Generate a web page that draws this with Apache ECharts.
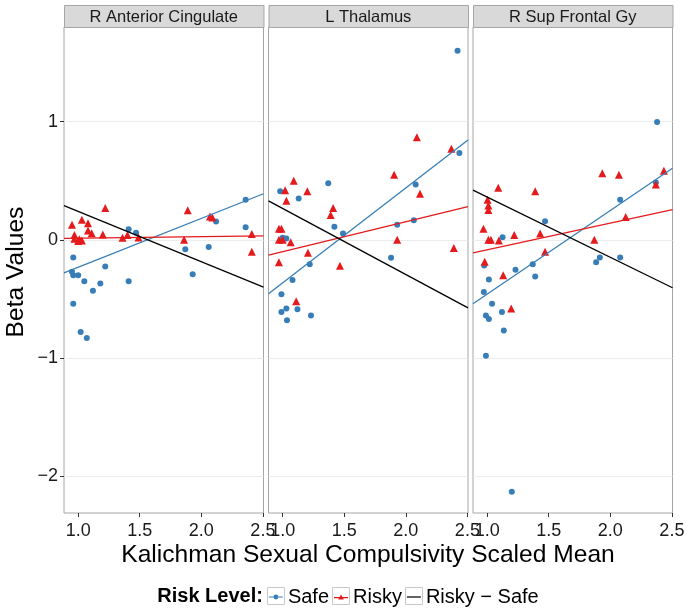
<!DOCTYPE html>
<html>
<head>
<meta charset="utf-8">
<script src="https://cdn.jsdelivr.net/npm/echarts@6/dist/echarts.min.js"></script>
<style>html,body{margin:0;padding:0;background:#fff;}#c{width:690px;height:613px;}</style>
</head>
<body>
<div id="c"></div>
<script>
// ---- data ----
const panelNames = ['R Anterior Cingulate', 'L Thalamus', 'R Sup Frontal Gy'];
const xTicks = [1.0, 1.5, 2.0, 2.5];
const yTicks = [-2, -1, 0, 1];
const xRange = [0.885, 2.505];
const yRange = [-2.31, 1.80];

const safeACC = [[2.36,0.34],[2.12,0.155],[2.36,0.106],[1.41,0.09],[1.47,0.06],[1.87,-0.08],[2.06,-0.06],[0.96,-0.15],[1.22,-0.225],[0.95,-0.27],[0.96,-0.30],[1.0,-0.30],[1.93,-0.29],[1.05,-0.35],[1.18,-0.37],[1.41,-0.35],[1.12,-0.43],[0.96,-0.54],[1.02,-0.78],[1.07,-0.83]];
const riskyACC = [[1.22,0.27],[1.89,0.25],[0.95,0.127],[1.03,0.17],[1.08,0.14],[1.08,0.08],[1.11,0.056],[0.97,0.04],[0.97,0.01],[1.01,0.005],[1.03,-0.006],[1.0,-0.01],[1.20,0.045],[1.36,0.017],[1.40,0.04],[1.49,0.02],[1.86,0.0],[2.07,0.197],[2.09,0.19],[2.41,0.05],[2.41,-0.10]];
const safeThal = [[2.42,1.60],[2.435,0.735],[2.08,0.467],[1.37,0.478],[0.98,0.41],[1.13,0.35],[1.42,0.11],[1.49,0.053],[1.93,0.127],[2.065,0.166],[1.0,0.017],[1.03,0.011],[1.88,-0.152],[1.22,-0.206],[1.08,-0.34],[0.99,-0.46],[0.99,-0.61],[1.03,-0.58],[1.12,-0.586],[1.23,-0.64],[1.035,-0.68]];
const riskyThal = [[2.09,0.867],[2.37,0.77],[1.905,0.55],[1.09,0.50],[1.02,0.42],[1.2,0.41],[1.03,0.33],[2.115,0.39],[1.41,0.27],[1.39,0.21],[0.97,0.093],[0.99,0.093],[0.97,0.0],[1.0,0.0],[1.065,-0.02],[1.93,0.0],[2.39,-0.068],[1.205,-0.11],[0.97,-0.19],[1.465,-0.22],[1.11,-0.52]];
const safeSFG = [[2.38,0.997],[2.37,0.484],[2.08,0.34],[1.47,0.157],[1.125,0.022],[0.976,-0.217],[1.885,-0.19],[1.915,-0.15],[2.08,-0.15],[1.23,-0.253],[1.37,-0.206],[1.39,-0.31],[1.014,-0.335],[0.973,-0.44],[1.04,-0.54],[0.99,-0.64],[1.014,-0.67],[1.12,-0.61],[1.135,-0.766],[0.99,-0.98],[1.2,-2.13]];
const riskySFG = [[2.435,0.585],[2.37,0.467],[1.935,0.563],[2.07,0.55],[1.09,0.44],[1.39,0.41],[1.003,0.34],[1.01,0.29],[1.01,0.253],[2.125,0.194],[0.97,0.093],[1.22,0.04],[1.43,0.053],[1.01,0.0],[1.03,0.0],[1.095,-0.006],[1.87,0.0],[1.47,-0.1],[0.98,-0.186],[1.13,-0.30],[1.195,-0.58]];

// fitted lines: value at left and right edge of the x range
const safeFitACC = [-0.28, 0.39], riskyFitACC = [0.013, 0.034], diffFitACC = [0.29, -0.40];
const safeFitThal = [-0.456, 0.845], riskyFitThal = [-0.13, 0.28], diffFitThal = [0.33, -0.575];
const safeFitSFG = [-0.54, 0.605], riskyFitSFG = [-0.11, 0.256], diffFitSFG = [0.42, -0.405];

const safeData = [safeACC, safeThal, safeSFG];
const riskyData = [riskyACC, riskyThal, riskySFG];
const safeFits = [safeFitACC, safeFitThal, safeFitSFG];
const riskyFits = [riskyFitACC, riskyFitThal, riskyFitSFG];
const diffFits = [diffFitACC, diffFitThal, diffFitSFG];

// ---- layout ----
const FONT = '"Liberation Sans", Arial, Helvetica, sans-serif';
const BLUE = '#377eb8', RED = '#e41a1c', BLACK = '#000000';
const panelLeft = [64, 268.5, 473];
const panelW = 199.5, panelTop = 27, panelH = 486;
const stripTop = 5, stripH = 22;

const grids = [], xAxes = [], yAxes = [], series = [], graphics = [];
function fitLine(f) { return [[xRange[0], f[0]], [xRange[1], f[1]]]; }

for (let i = 0; i < 3; i++) {
  grids.push({ left: panelLeft[i], top: panelTop, width: panelW, height: panelH,
    show: true, borderColor: '#a6a6a6', borderWidth: 1, backgroundColor: '#ffffff', containLabel: false });
  xAxes.push({ type: 'value', gridIndex: i, min: xRange[0], max: xRange[1], position: 'bottom',
    axisLine: { show: false, onZero: false },
    axisTick: { show: true, customValues: xTicks, length: 4, lineStyle: { color: '#333' } },
    axisLabel: { show: true, customValues: xTicks, margin: 9, fontSize: 18, color: '#1a1a1a', fontFamily: FONT,
      formatter: v => v.toFixed(1) },
    splitLine: { show: false } });
  yAxes.push({ type: 'value', gridIndex: i, min: yRange[0], max: yRange[1], position: 'left',
    axisLine: { show: false, onZero: false },
    axisTick: { show: i === 0, customValues: yTicks, length: 4, lineStyle: { color: '#333' } },
    axisLabel: { show: i === 0, customValues: yTicks, margin: 6, fontSize: 18, color: '#1a1a1a', fontFamily: FONT,
      formatter: v => String(v).replace('-', '\u2212') },
    splitLine: { show: true, lineStyle: { color: '#ececec', width: 1 } } });

  series.push({ name: 'Safe', type: 'scatter', xAxisIndex: i, yAxisIndex: i, data: safeData[i],
    symbol: 'circle', symbolSize: 6, itemStyle: { color: BLUE, opacity: 1 }, z: 3 });
  series.push({ name: 'Risky', type: 'scatter', xAxisIndex: i, yAxisIndex: i, data: riskyData[i],
    symbol: 'triangle', symbolSize: 8, itemStyle: { color: RED, opacity: 1 }, z: 3 });
  series.push({ name: 'Safe', type: 'line', xAxisIndex: i, yAxisIndex: i, data: fitLine(safeFits[i]),
    showSymbol: false, lineStyle: { color: BLUE, width: 1.3 }, itemStyle: { color: BLUE }, z: 4 });
  series.push({ name: 'Risky', type: 'line', xAxisIndex: i, yAxisIndex: i, data: fitLine(riskyFits[i]),
    showSymbol: false, lineStyle: { color: RED, width: 1.3 }, itemStyle: { color: RED }, z: 4 });
  series.push({ name: 'Risky \u2212 Safe', type: 'line', xAxisIndex: i, yAxisIndex: i, data: fitLine(diffFits[i]),
    showSymbol: false, lineStyle: { color: BLACK, width: 1.3 }, itemStyle: { color: BLACK }, z: 4 });

  graphics.push({ type: 'rect', shape: { x: panelLeft[i] + 0.5, y: stripTop + 0.5, width: panelW, height: stripH },
    style: { fill: '#d9d9d9', stroke: '#a6a6a6', lineWidth: 1 }, silent: true });
  graphics.push({ type: 'text', x: panelLeft[i] + panelW / 2, y: stripTop + stripH / 2 + 1,
    style: { text: panelNames[i], font: '16.5px ' + FONT, fill: '#1a1a1a', textAlign: 'center', textVerticalAlign: 'middle' }, silent: true });
}

// axis titles
graphics.push({ type: 'text', x: 368, y: 555,
  style: { text: 'Kalichman Sexual Compulsivity Scaled Mean', font: '24.6px ' + FONT, fill: '#000', textAlign: 'center', textVerticalAlign: 'middle' }, silent: true });
graphics.push({ type: 'text', x: 16, y: 272, rotation: Math.PI / 2,
  style: { text: 'Beta Values', font: '24.6px ' + FONT, fill: '#000', textAlign: 'center', textVerticalAlign: 'middle' }, silent: true });

// legend geometry
const legendFont = 20, boxSize = 18, iconW = 14, legendY = 587;
const legendNames = ['Safe', 'Risky', 'Risky \u2212 Safe'];
const mctx = document.createElement('canvas').getContext('2d');
mctx.font = 'bold ' + legendFont + 'px ' + FONT;
const titleW = mctx.measureText('Risk Level:').width;
mctx.font = legendFont + 'px ' + FONT;
const iconTextGap = 5, itemGap = 5;
const boxPad = (boxSize - iconW) / 2;
const widths = legendNames.map(n => mctx.measureText(n).width);
let total = titleW + 4 + boxPad;
widths.forEach((w, k) => { total += iconW + iconTextGap + w + (k < 2 ? itemGap : 0); });
const legendStart = 348 - total / 2;
graphics.push({ type: 'text', x: legendStart, y: legendY + boxSize / 2,
  style: { text: 'Risk Level:', font: 'bold ' + legendFont + 'px ' + FONT, fill: '#000', textAlign: 'left', textVerticalAlign: 'middle' }, silent: true });
const legendLeft = legendStart + titleW + 4 + boxPad;
let cx = legendLeft;
widths.forEach((w, k) => {
  graphics.push({ type: 'rect', z: -1, shape: { x: Math.round(cx - boxPad) + 0.5, y: legendY + 0.5, width: boxSize - 1, height: boxSize - 1 },
    style: { fill: '#ffffff', stroke: '#c8c8c8', lineWidth: 1 }, silent: true });
  cx += iconW + iconTextGap + w + itemGap;
});

const icSafe = 'path://M0,7.3h16v1.4H0z M10.8,8a2.8,2.8 0 1,1 -5.6,0a2.8,2.8 0 1,1 5.6,0z';
const icRisky = 'path://M0,7.3h16v1.4H0z M8,4.5L11.2,10H4.8z';
const icDiff = 'path://M0,7.3h16v1.4H0z';

const chart = echarts.init(document.getElementById('c'), null, { renderer: 'canvas' });
chart.setOption({
  animation: false,
  backgroundColor: '#ffffff',
  textStyle: { fontFamily: FONT },
  grid: grids, xAxis: xAxes, yAxis: yAxes, series: series,
  legend: {
    left: legendLeft, top: legendY, orient: 'horizontal',
    itemWidth: iconW, itemHeight: boxSize, itemGap: itemGap, padding: 0,
    selectedMode: false,
    textStyle: { fontSize: legendFont, color: '#000', fontFamily: FONT },
    data: [
      { name: 'Safe', icon: icSafe, itemStyle: { color: BLUE } },
      { name: 'Risky', icon: icRisky, itemStyle: { color: RED } },
      { name: 'Risky \u2212 Safe', icon: icDiff, itemStyle: { color: BLACK } }
    ]
  },
  graphic: graphics
});
</script>
</body>
</html>
